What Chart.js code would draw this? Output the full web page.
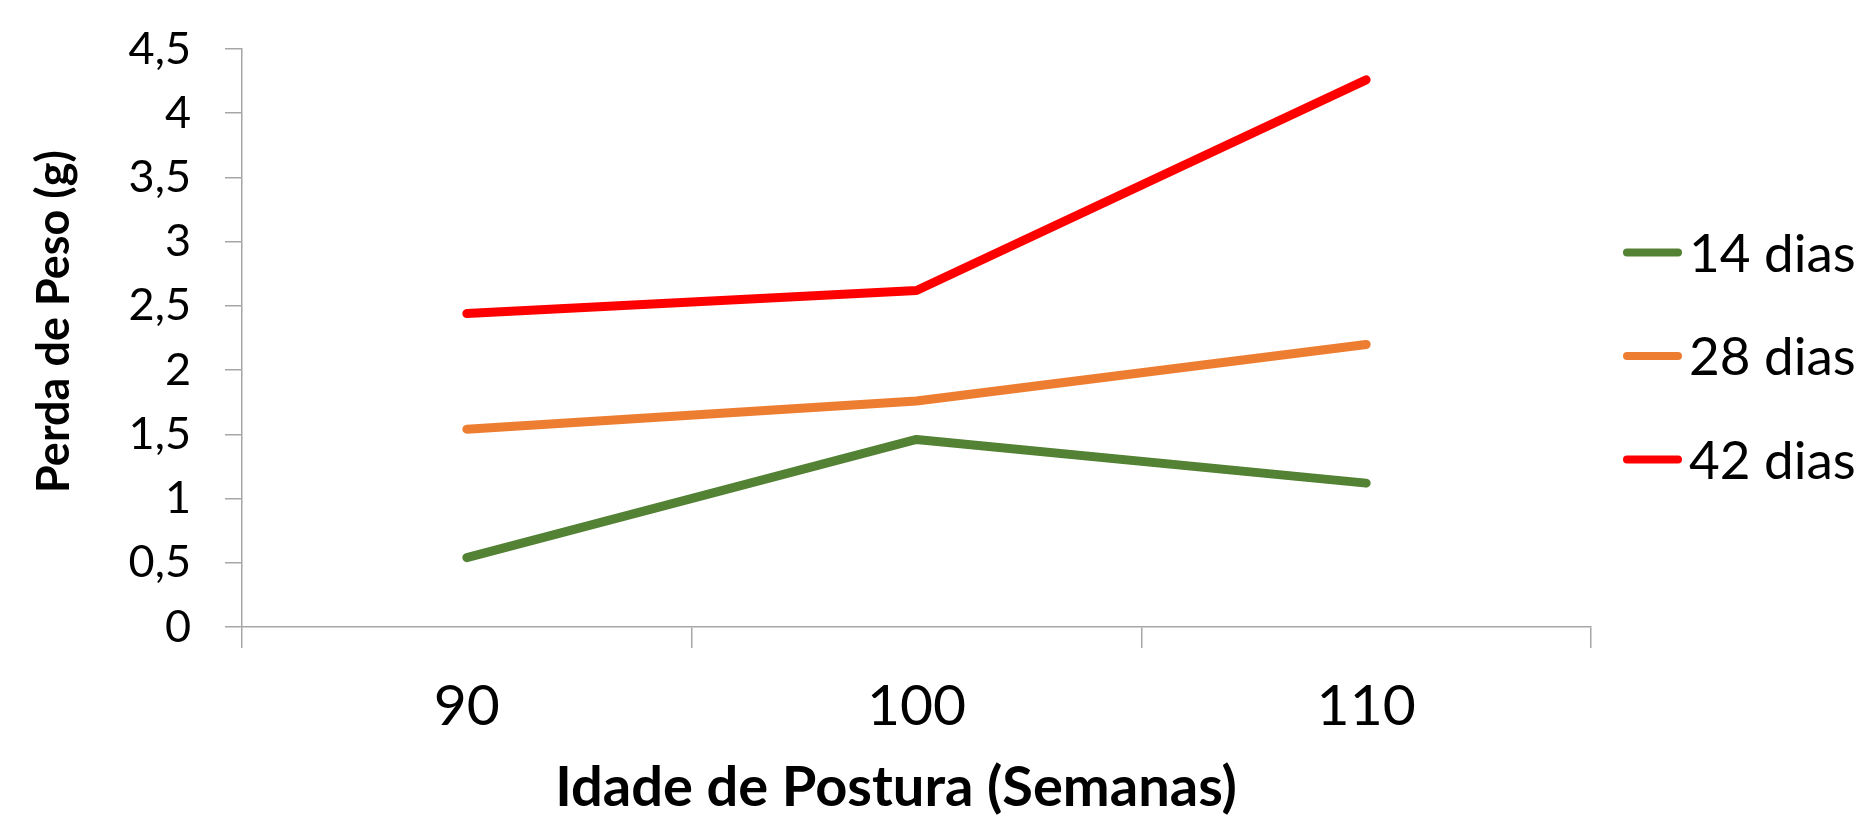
<!DOCTYPE html>
<html>
<head>
<meta charset="utf-8">
<script src="https://cdn.jsdelivr.net/npm/chart.js@4/dist/chart.umd.min.js"></script>
<style>
    html, body { margin: 0; padding: 0; background: #ffffff; }
    .chart-container { position: relative; width: 1873px; height: 815px; }
</style>
</head>
<body>
<div class="chart-container">
    <canvas id="chart"></canvas>
</div>
<script>
// dados
const weeks = ['90', '100', '110'];
const seriesNames = ['14 dias', '28 dias', '42 dias'];
const dias14 = [0.54, 1.46, 1.12];
const dias28 = [1.54, 1.76, 2.2];
const dias42 = [2.44, 2.62, 4.26];
const seriesColors = ['#548235', '#ED7D31', '#FF0000'];
const yMin = 0, yMax = 4.5, yStep = 0.5;

const axisColor = '#a6a6a6';
const fontFamily = "'Lato', 'Open Sans', sans-serif";

// legenda desenhada à direita, linha curta colada ao texto
const sideLegend = {
    id: 'sideLegend',
    afterDraw(chart) {
        const { ctx, chartArea } = chart;
        const midY = (chartArea.top + chartArea.bottom) / 2 + 18;
        const gap = 103.5;
        const x0 = chartArea.right + 36;
        ctx.save();
        chart.data.datasets.forEach((ds, i) => {
            const y = midY + (i - 1) * gap;
            ctx.strokeStyle = ds.borderColor;
            ctx.lineWidth = 8;
            ctx.lineCap = 'round';
            ctx.beginPath();
            ctx.moveTo(x0, y);
            ctx.lineTo(x0 + 51, y);
            ctx.stroke();
            ctx.fillStyle = '#000';
            ctx.font = `53px ${fontFamily}`;
            ctx.textAlign = 'left';
            ctx.textBaseline = 'alphabetic';
            ctx.fillText(ds.label, x0 + 62, y + 19);
        });
        ctx.restore();
    }
};

const datasets = [dias14, dias28, dias42].map((values, i) => ({
    label: seriesNames[i],
    data: values,
    borderColor: seriesColors[i],
    backgroundColor: seriesColors[i],
    borderWidth: 9,
    borderCapStyle: 'round',
    borderJoinStyle: 'round',
    pointRadius: 0,
    tension: 0,
    fill: false
}));

new Chart(document.getElementById('chart').getContext('2d'), {
    type: 'line',
    data: { labels: weeks, datasets },
    options: {
        responsive: true,
        maintainAspectRatio: false,
        animation: false,
        layout: { padding: { top: 49, right: 282, bottom: 0, left: 0 } },
        plugins: {
            legend: { display: false },
            tooltip: { enabled: false }
        },
        scales: {
            x: {
                type: 'category',
                offset: true,
                afterFit(scale) { scale.height = 188; },
                grid: {
                    offset: true,
                    drawOnChartArea: false,
                    drawTicks: true,
                    tickLength: 21,
                    color: axisColor,
                    lineWidth: 1.5
                },
                border: { display: true, color: axisColor, width: 1.5 },
                ticks: {
                    color: '#000',
                    padding: 30,
                    maxRotation: 0,
                    font: { family: fontFamily, size: 57, lineHeight: 1 }
                },
                title: {
                    display: true,
                    text: 'Idade de Postura (Semanas)   ',
                    color: '#000',
                    padding: 0,
                    font: { family: fontFamily, size: 56, weight: 'bold', lineHeight: 0.97 }
                }
            },
            y: {
                min: yMin,
                max: yMax,
                afterFit(scale) {
                    scale.width = 242;
                    scale.paddingTop = 0;
                    scale.paddingBottom = 0;
                },
                grid: {
                    drawOnChartArea: false,
                    drawTicks: true,
                    tickLength: 17,
                    color: axisColor,
                    lineWidth: 1.5
                },
                border: { display: true, color: axisColor, width: 1.5 },
                ticks: {
                    stepSize: yStep,
                    color: '#000',
                    padding: 34,
                    font: { family: fontFamily, size: 45, lineHeight: 1 },
                    callback: v => String(v).replace('.', ',')
                },
                title: {
                    display: true,
                    text: '   Perda de Peso (g)',
                    color: '#000',
                    padding: 0,
                    font: { family: fontFamily, size: 45, weight: 'bold', lineHeight: 2.4 }
                }
            }
        }
    },
    plugins: [sideLegend]
});
</script>
</body>
</html>
